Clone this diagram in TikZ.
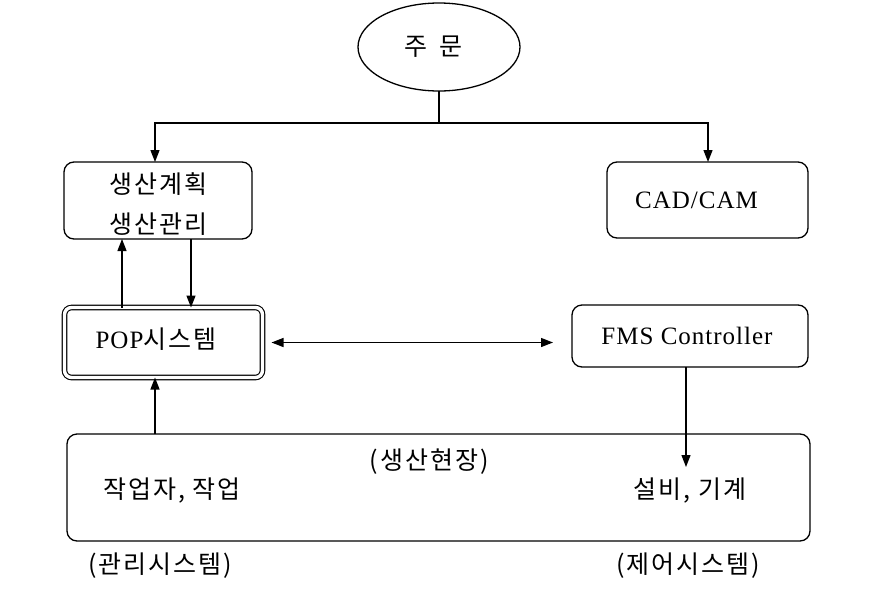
\documentclass[tikz,border=0pt]{standalone}
\usepackage{fontspec}
\setmainfont[LetterSpace=4]{Liberation Serif}
\newfontfamily\kr[LetterSpace=8]{Noto Sans CJK KR}
\usetikzlibrary{arrows.meta,shapes.geometric,calc}
\begin{document}
\begin{tikzpicture}[x=1pt,y=-1pt,
  every node/.style={inner sep=0pt, outer sep=0pt},
  ln/.style={line width=1.3pt},
  arr/.style={ln,-{Triangle[length=12pt,width=9pt]}},
  darr/.style={ln,{Triangle[length=12pt,width=9pt]}-{Triangle[length=12pt,width=9pt]}},
  rbox/.style={draw, line width=1.3pt, rounded corners=10pt, rectangle},
  krt/.style={font=\kr\fontsize{25}{36}\selectfont},
  lat/.style={font=\fontsize{25}{30}\selectfont}]
\useasboundingbox[fill=white] (0,0) rectangle (870,600);
% nodes
\node[draw, ln, ellipse, minimum width=162pt, minimum height=88pt] (order) at (439,47) {};
\node[krt] (ordertext) at (433,47) {주\hspace{12pt}문};
\node[rbox, minimum width=188pt, minimum height=77pt] (plan) at (158,200.5) {};
\node[krt, align=center] (plantext) at (158,204) {생산계획\\[4pt]생산관리};
\node[rbox, minimum width=201pt, minimum height=76pt, lat] (cad) at (707.5,200) {\hspace{-22pt}CAD/CAM};
\node[draw, rectangle, rounded corners=7pt,
      line width=1.1pt, double, double distance=3.4pt,
      minimum width=198pt, minimum height=70pt] (pop) at (163.5,342.5) {};
\node[lat] (poptext) at (156,339) {POP{\kr\fontsize{25}{30}\selectfont 시스템}};
\node[rbox, minimum width=236pt, minimum height=62pt, lat] (fms) at (690,336) {\hspace{-6pt}FMS Controller};
\node[rbox, minimum width=743pt, minimum height=107pt] (field) at (438.5,487.5) {};
\node[krt] (worker) at (172,491) {작업자, 작업};
\node[krt] (site) at (429,462) {(생산현장)};
\node[krt] (equip) at (690,491) {설비, 기계};
\node[krt] (mgmt) at (160,566) {(관리시스템)};
\node[krt] (ctrl) at (688,566) {(제어시스템)};
% helper coordinates
\coordinate (j) at (439,123);
\coordinate (xl) at (155,0);
\coordinate (xr) at (708,0);
\coordinate (xu) at (122,0);
\coordinate (xd) at (191,0);
\coordinate (xf) at (686,0);
\coordinate (ftip) at (686,467);
% connectors
\draw[ln] (order.south) -- (j);
\draw[arr] (j) -- (xl |- j) -- (xl |- plan.north);
\draw[arr] (j) -- (xr |- j) -- (xr |- cad.north);
\draw[arr] (xu |- pop.north) -- (xu |- plan.south);
\draw[arr] (xd |- plan.south) -- (xd |- pop.north);
\draw[darr, shorten <=9pt, shorten >=19pt] (pop.east) -- (fms.west |- pop.east);
\draw[arr] (xf |- fms.south) -- (ftip);
\draw[arr] (xl |- field.north) -- (xl |- pop.south);
\end{tikzpicture}
\end{document}
